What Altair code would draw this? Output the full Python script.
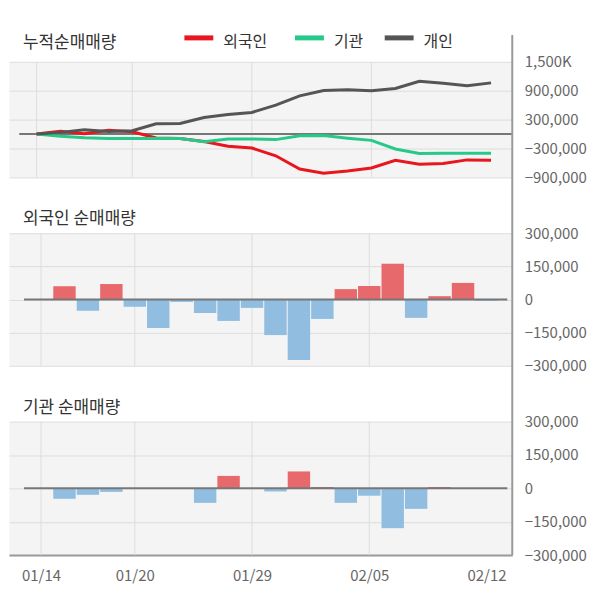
import json
import altair as alt
import pandas as pd

# ---------------- data ----------------
dates = ["01/14", "01/15", "01/16", "01/17", "01/20", "01/21", "01/22", "01/23",
         "01/28", "01/29", "01/30", "01/31", "02/03", "02/04", "02/05", "02/06",
         "02/07", "02/10", "02/11", "02/12"]

foreign_daily = [0, 60000, -51000, 70000, -33000, -129000, -11000, -61000, -97000, -38000,
                 -161000, -274000, -88000, 47000, 61000, 162000, -83000, 15000, 75000, -6000]
inst_daily = [0, -47000, -29000, -16000, 0, 0, 0, -65000, 56000, 0,
              -14000, 76000, 6000, -65000, -33000, -179000, -92000, 6000, 0, 0]

foreign_cum = [0, 60000, 9000, 79000, 46000, -83000, -94000, -155000, -252000, -290000,
               -451000, -725000, -813000, -766000, -705000, -543000, -626000, -611000, -536000, -542000]
inst_cum = [0, -47000, -76000, -92000, -92000, -92000, -92000, -157000, -101000, -101000,
            -115000, -35000, -30000, -85000, -131000, -310000, -402000, -396000, -396000, -396000]
indiv_cum = [0, 35000, 90000, 55000, 70000, 215000, 220000, 345000, 407000, 449000,
             600000, 794000, 904000, 918000, 897000, 945000, 1096000, 1055000, 1001000, 1063000]

series_names = ["외국인", "기관", "개인"]
series_colors = ["#E8161E", "#27C98B", "#555555"]
panel_titles = ["누적순매매량", "외국인 순매매량", "기관 순매매량"]
grid_idx = [0, 4, 9, 14]
label_idx = [0, 4, 9, 14, 19]
top_ticks = [-900000, -300000, 300000, 900000, 1500000]
bar_ticks = [-300000, -150000, 0, 150000, 300000]

# ---------------- layout / style ----------------
FONT = "Noto Sans CJK KR"
W = 505
H_TOP, H_MID, H_BOT = 116, 133, 134
XMIN, XMAX = -1.154, 19.888
ZERO_START = -0.725
RED_BAR, BLUE_BAR = "#E8696C", "#90BDE0"
GRID = "#dddddd"
AXIS_LINE = "#9a9a9a"
LABEL = "#666666"
legend_sym_x = [176, 287, 377]   # pixel layout of the legend entries
legend_sym_len = 29
legend_label_gap = 10

xscale = alt.Scale(domain=[XMIN, XMAX], nice=False, zero=False)
color_scale = alt.Scale(domain=series_names, range=series_colors)
idx = list(range(len(dates)))

cum_df = pd.DataFrame({
    "i": idx * 3,
    "series": [n for n in series_names for _ in idx],
    "v": foreign_cum + inst_cum + indiv_cum,
})
grid_df = pd.DataFrame({"i": grid_idx})
zero_df = pd.DataFrame({"x": [ZERO_START], "x2": [XMAX], "y": [0]})
one_df = pd.DataFrame({"a": [0]})
legend_df = pd.DataFrame({
    "series": series_names,
    "x": legend_sym_x,
    "x2": [x + legend_sym_len for x in legend_sym_x],
    "tx": [x + legend_sym_len + legend_label_gap for x in legend_sym_x],
})


def yaxis(values, expr=None):
    kw = dict(orient="right", values=values, grid=True, gridColor=GRID, gridWidth=1,
              domain=False, ticks=False, labelPadding=12, labelFontSize=15,
              labelColor=LABEL, labelFont=FONT, title=None, labelAlign="left",
              labelBaseline="middle", labelOverlap=False)
    if expr:
        kw["labelExpr"] = expr
    return alt.Axis(**kw)


def vgrid(h, xax=None):
    return alt.Chart(grid_df).mark_rule(color=GRID, strokeWidth=1).encode(
        x=alt.X("i:Q", scale=xscale, axis=xax),
        y=alt.value(0), y2=alt.value(h))


def title_mark(text, y):
    return alt.Chart(pd.DataFrame({"t": [text]})).mark_text(
        align="left", baseline="middle", fontSize=17, color="#333333", font=FONT
    ).encode(text="t:N", x=alt.value(14), y=alt.value(y))


# ---------------- top panel: cumulative ----------------
ytop = alt.Scale(domain=[-900000, 1500000], nice=False, zero=False)
top_axis = yaxis(top_ticks, "datum.value == 1500000 ? '1,500K' : format(datum.value, ',')")

top_bound = alt.Chart(one_df).mark_rule(color="white", strokeWidth=1).encode(
    x=alt.value(0), x2=alt.value(10), y=alt.value(-52))

top_zero = alt.Chart(zero_df).mark_rule(color="#777777", strokeWidth=2).encode(
    x=alt.X("x:Q", scale=xscale, axis=None), x2="x2:Q",
    y=alt.Y("y:Q", scale=ytop, axis=top_axis))

top_lines = alt.Chart(cum_df).mark_line(strokeWidth=3).encode(
    x=alt.X("i:Q", scale=xscale, axis=None),
    y=alt.Y("v:Q", scale=ytop, axis=top_axis),
    color=alt.Color("series:N", scale=color_scale, legend=None),
)

leg_sym = alt.Chart(legend_df).mark_rule(strokeWidth=5).encode(
    x=alt.X("x:Q", scale=None), x2="x2:Q", y=alt.value(-24),
    color=alt.Color("series:N", scale=color_scale, legend=None))
leg_txt = alt.Chart(legend_df).mark_text(
    align="left", baseline="middle", fontSize=16, color="#333333", font=FONT
).encode(x=alt.X("tx:Q", scale=None), y=alt.value(-20), text="series:N")

top = alt.layer(top_bound, vgrid(H_TOP), top_zero, top_lines, leg_sym, leg_txt,
                title_mark(panel_titles[0], -19)).properties(width=W, height=H_TOP)


# ---------------- bar panels ----------------
ybar = alt.Scale(domain=[-300000, 300000], nice=False, zero=False)


def bar_panel(daily, title, h, bottom):
    df = pd.DataFrame({"i": idx, "v": daily})
    ax = yaxis(bar_ticks, "format(datum.value, ',')")
    if bottom:
        xax = alt.Axis(values=label_idx, labelExpr=json.dumps(dates) + "[datum.value]",
                       grid=False, ticks=False, domain=True, domainColor=AXIS_LINE,
                       domainWidth=2, labelPadding=13, labelFontSize=15,
                       labelColor=LABEL, labelFont=FONT, title=None,
                       labelFlush=False, labelOverlap=False)
    else:
        xax = None
    bars = alt.Chart(df).mark_bar(size=22.5).encode(
        x=alt.X("i:Q", scale=xscale, axis=xax),
        y=alt.Y("v:Q", scale=ybar, axis=ax),
        color=alt.condition("datum.v > 0", alt.value(RED_BAR), alt.value(BLUE_BAR)),
    )
    zero = alt.Chart(zero_df).mark_rule(color="#777777", strokeWidth=2).encode(
        x=alt.X("x:Q", scale=xscale, axis=xax), x2="x2:Q",
        y=alt.Y("y:Q", scale=ybar, axis=ax))
    layers = [vgrid(h, xax), bars, zero, title_mark(title, -14)]
    if bottom:
        right_rule = alt.Chart(one_df).mark_rule(color=AXIS_LINE, strokeWidth=2).encode(
            x=alt.value(W), y=alt.value(-388), y2=alt.value(h))
        layers.append(right_rule)
    return alt.layer(*layers).properties(width=W, height=h)


mid = bar_panel(foreign_daily, panel_titles[1], H_MID, False)
bot = bar_panel(inst_daily, panel_titles[2], H_BOT, True)

chart = alt.vconcat(top, mid, bot, spacing=56, bounds="flush").properties(
    padding={"left": 0, "top": 0, "right": 5, "bottom": 5}
).configure(font=FONT).configure_view(fill="#f4f4f4", stroke="transparent")

chart.save("out.html", embed_options={"renderer": "svg", "actions": False})
